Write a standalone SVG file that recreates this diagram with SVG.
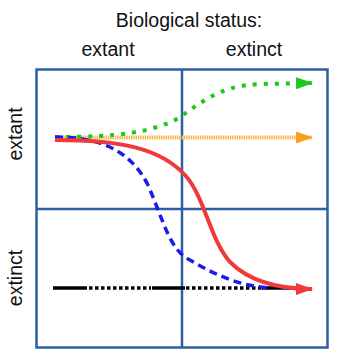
<svg xmlns="http://www.w3.org/2000/svg" width="360" height="360" viewBox="0 0 360 360">
<defs>
<style>
text{font-family:"Liberation Sans",Arial,sans-serif;font-size:19.5px;fill:#111;text-anchor:middle}
.grid{fill:none;stroke:#2e5fa3;stroke-width:2.5}
.c{fill:none}
</style>
<marker id="aG" markerWidth="17" markerHeight="12" refX="16" refY="6" orient="auto" markerUnits="userSpaceOnUse"><path d="M0,0 L17,6 L0,12 Z" fill="#1ec81e"/></marker>
<marker id="aO" markerWidth="17" markerHeight="12" refX="16" refY="6" orient="auto" markerUnits="userSpaceOnUse"><path d="M0,0 L17,6 L0,12 Z" fill="#f7a01c"/></marker>
<marker id="aR" markerWidth="17" markerHeight="12" refX="16" refY="6" orient="auto" markerUnits="userSpaceOnUse"><path d="M0,0 L17,6 L0,12 Z" fill="#f03a3a"/></marker>
</defs>
<rect width="360" height="360" fill="#fff"/>
<text x="189" y="27">Biological status:</text>
<text x="108" y="56">extant</text>
<text x="254" y="56">extinct</text>
<text transform="translate(22,134) rotate(-90)">extant</text>
<text transform="translate(22,278) rotate(-90)">extinct</text>
<g id="grid">
<rect class="grid" x="36.5" y="69.5" width="291" height="278"/>
<line class="grid" x1="182" y1="69.5" x2="182" y2="347.5"/>
<line class="grid" x1="36.5" y1="209" x2="327.5" y2="209"/>
</g>
<g id="connectors">
<path id="black1" class="c" d="M53,288 H87 M152,288 H185 M262,288 H300" stroke="#000" stroke-width="3.5"/>
<path id="black2" class="c" d="M89,288 H151 M186,288 H262" stroke="#000" stroke-width="3.5" stroke-dasharray="3.5 2.5"/>
<path id="orange" class="c" d="M55,137.5 H312" stroke="#f8b84e" stroke-width="4" stroke-dasharray="1.5 0.8" marker-end="url(#aO)"/>
<path id="green" class="c" d="M55,137 C120,137 150,132 175,120 C200,105 215,86 260,84 L312,83" stroke="#1ec81e" stroke-width="4" stroke-dasharray="4 7" marker-end="url(#aG)"/>
<path id="blue" class="c" d="M55,137 C100,137 130,150 148,185 C165,225 170,250 190,260 C215,275 240,286 270,288" stroke="#1a1aee" stroke-width="3.5" stroke-dasharray="8 5"/>
<path id="red" class="c" d="M55,140 C120,140 160,148 185,175 C205,197 210,240 230,262 C250,282 280,289 312,289" stroke="#f03a3a" stroke-width="4" marker-end="url(#aR)"/>
</g>
</svg>
